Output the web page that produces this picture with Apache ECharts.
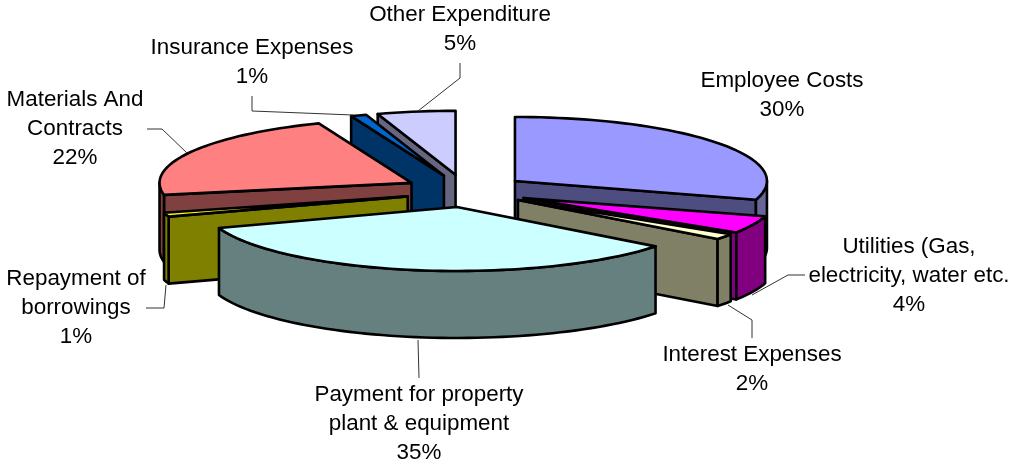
<!DOCTYPE html>
<html style="height: 100%">

<head>
	<meta charset="utf-8">
	<style>html, body { background: #fff; }</style>
</head>

<body style="height: 100%; margin: 0">
	<div id="container" style="height: 100%; "></div>
	<script type="text/javascript" src="https://cdn.jsdelivr.net/npm/echarts@6/dist/echarts.min.js"></script>
	<script type="text/javascript">
		let categories = ['Employee Costs', 'Utilities (Gas, electricity, water etc.', 'Interest Expenses', 'Payment for property plant & equipment', 'Repayment of borrowings', 'Materials And Contracts', 'Insurance Expenses', 'Other Expenditure'];
		let percentValues = [30, 4, 2, 35, 1, 22, 1, 5];
		let topColors = ['#9999ff', '#ff00ff', '#ffffcc', '#ccffff', '#ffff00', '#ff8080', '#0066cc', '#ccccff'];
		let wallColors = ['#4d4d80', '#800080', '#808066', '#668080', '#808000', '#804040', '#003366', '#666680'];
		let rimColors = ['#666699', '#800080', '#808066', '#668080', '#808000', '#804040', '#003366', '#666680'];

		// label lines, centre x and first line middle y
		let labelLines = [
			['Employee Costs', '30%'],
			['Utilities (Gas,', 'electricity, water etc.', '4%'],
			['Interest Expenses', '2%'],
			['Payment for property', 'plant & equipment', '35%'],
			['Repayment of', 'borrowings', '1%'],
			['Materials And', 'Contracts', '22%'],
			['Insurance Expenses', '1%'],
			['Other Expenditure', '5%']
		];
		let labelPos = [[782, 81], [909, 247], [752, 355], [419, 395], [76, 279], [75, 100], [252, 48], [460, 15]];
		let leaderLines = [
			[],
			[[752, 295], [788, 275], [805, 275]],
			[[728, 305], [752, 320], [752, 338]],
			[[418, 340], [419, 378]],
			[[146, 308], [164, 308], [166, 285]],
			[[147, 129], [162, 129], [187, 153]],
			[[252, 96], [252, 111], [353, 115]],
			[[460, 63], [460, 78], [418, 111]]
		];

		// pie layout
		let cx = 467.7, cy = 190.5;
		let rx = 252, ry = 64, depth = 67;
		let explodeX = 58.4, explodeY = 17.9;
		let lineW = 2.6;
		// the original's perspective moves edges a little: [apex dx, apex dy, start deg, end deg]
		let perspective = [
			[0, 1, 0, -1],
			[3, 0, -1.5, 0],
			[3, -1, 0, -2],
			[2, -1, -1.6, -4.8],
			[-3, 2, -4, -4],
			[-5, 1, 0, 0],
			[-4, 2, 0, 0],
			[-3, 2, 0, 0]
		];

		let dom = document.getElementById("container");
		let myChart = echarts.init(dom);

		let total = percentValues.reduce(function (a, b) { return a + b; }, 0);
		let slices = [];
		let acc = 0;
		for (let i in percentValues) {
			let start = acc / total * 360;
			acc += percentValues[i];
			let end = acc / total * 360;
			slices.push({ index: +i, start: start, end: end, mid: (start + end) / 2 });
		}
		// back slices first
		slices.sort(function (a, b) {
			return Math.cos(b.mid * Math.PI / 180) - Math.cos(a.mid * Math.PI / 180);
		});

		function rim(ax, ay, deg) {
			let r = deg * Math.PI / 180;
			return [ax + rx * Math.sin(r), ay - ry * Math.cos(r)];
		}

		function arcPoints(ax, ay, from, to) {
			let pts = [];
			let n = Math.max(2, Math.ceil((to - from) / 2));
			for (let k = 0; k <= n; k++) {
				pts.push(rim(ax, ay, from + (to - from) * k / n));
			}
			return pts;
		}

		function drop(pts) {
			return pts.map(function (p) { return [p[0], p[1] + depth]; });
		}

		function poly(points, fill) {
			return {
				type: 'polygon',
				shape: { points: points },
				style: { fill: fill, stroke: '#000', lineWidth: lineW, lineJoin: 'round' }
			};
		}

		function renderSlice(params, api) {
			let s = slices[params.dataIndex];
			let adj = perspective[s.index];
			let midR = s.mid * Math.PI / 180;
			let ax = cx + explodeX * Math.sin(midR) + adj[0];
			let ay = cy - explodeY * Math.cos(midR) + adj[1];
			let start = s.start + adj[2];
			let end = s.end + adj[3];
			let wall = wallColors[s.index];
			let children = [];

			// radial walls turned to the viewer
			if (Math.sin(start * Math.PI / 180) < -0.001) {
				let e = [[ax, ay], rim(ax, ay, start)];
				children.push(poly(e.concat(drop(e).reverse()), wall));
			}
			if (Math.sin(end * Math.PI / 180) > 0.001) {
				let e = [[ax, ay], rim(ax, ay, end)];
				children.push(poly(e.concat(drop(e).reverse()), wall));
			}
			// outer wall, only the front half of the rim
			let from = Math.max(start, 90), to = Math.min(end, 270);
			if (to > from) {
				let arc = arcPoints(ax, ay, from, to);
				children.push(poly(arc.concat(drop(arc).reverse()), rimColors[s.index]));
			}
			children.push(poly([[ax, ay]].concat(arcPoints(ax, ay, start, end)), topColors[s.index]));
			return { type: 'group', children: children };
		}

		let graphics = [];
		for (let i in labelLines) {
			for (let j in labelLines[i]) {
				graphics.push({
					type: 'text',
					z: 10,
					style: {
						x: labelPos[i][0],
						y: labelPos[i][1] + j * 29,
						text: labelLines[i][j],
						fill: '#000',
						font: '22.4px "Liberation Sans", Arial, sans-serif',
						align: 'center',
						verticalAlign: 'middle'
					}
				});
			}
			if (leaderLines[i].length) {
				graphics.push({
					type: 'polyline',
					z: 10,
					shape: { points: leaderLines[i] },
					style: { stroke: '#333', lineWidth: 1, fill: null }
				});
			}
		}

		let option = {
			animation: false,
			backgroundColor: '#fff',
			graphic: graphics,
			series: [
				{
					type: 'custom',
					coordinateSystem: 'none',
					renderItem: renderSlice,
					data: slices.map(function (s) {
						return { name: categories[s.index], value: percentValues[s.index] };
					})
				}
			]
		};
		myChart.setOption(option);
	</script>
</body>
</html>
